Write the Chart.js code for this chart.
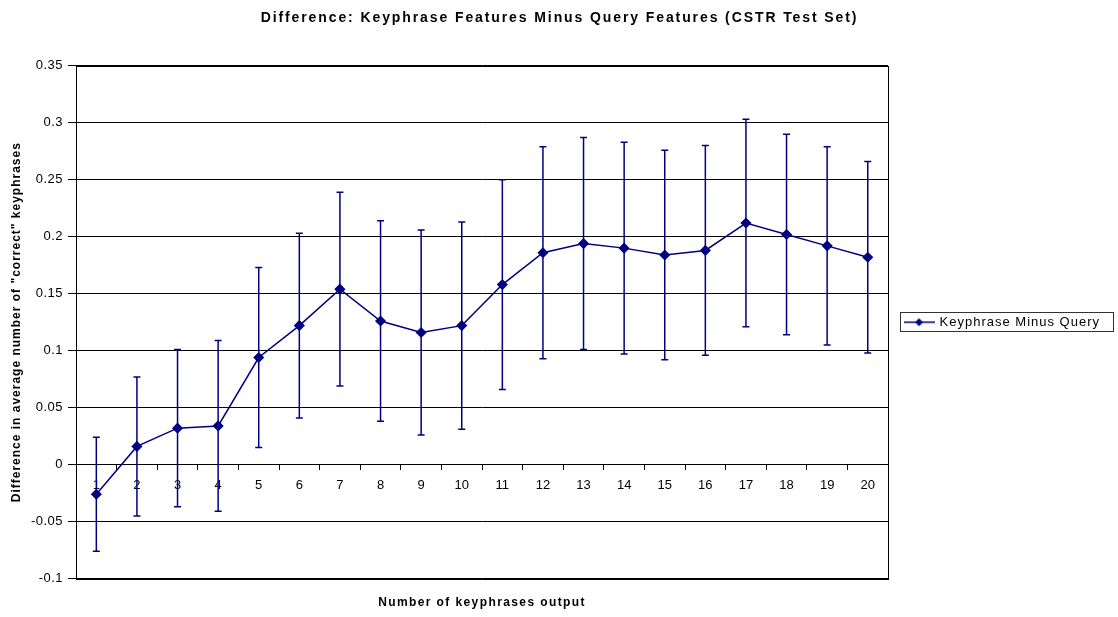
<!DOCTYPE html>
<html>
<head>
<meta charset="utf-8">
<script src="https://cdn.jsdelivr.net/npm/chart.js@4.4.1/dist/chart.umd.min.js"></script>
<style>
  html, body { margin: 0; padding: 0; background: #fff; }
  #wrap { width: 1118px; height: 617px; }
</style>
</head>
<body>
<div id="wrap"><canvas id="chart" width="1118" height="617"></canvas></div>
<script>
// Daten
const categories = ["1", "2", "3", "4", "5", "6", "7", "8", "9", "10",
  "11", "12", "13", "14", "15", "16", "17", "18", "19", "20"];
const meanDiff = [-0.026, 0.016, 0.032, 0.034, 0.094, 0.122, 0.154, 0.126, 0.116, 0.122,
  0.158, 0.186, 0.194, 0.190, 0.184, 0.188, 0.212, 0.202, 0.192, 0.182];
const errorSize = [0.050, 0.061, 0.069, 0.075, 0.079, 0.081, 0.085, 0.088, 0.090, 0.091,
  0.092, 0.093, 0.093, 0.093, 0.092, 0.092, 0.091, 0.088, 0.087, 0.084];
const yTicks = { min: -0.1, max: 0.35, step: 0.05 };

const NAVY = "#000080";
const FONT = "'Liberation Sans', Arial, sans-serif";
const LEGEND_TEXT = "Keyphrase Minus Query";

// Legendensymbol: Linie mit Raute
function makeLegendSymbol() {
  const c = document.createElement("canvas");
  c.width = 31;
  c.height = 10;
  const g = c.getContext("2d");
  g.strokeStyle = NAVY;
  g.lineWidth = 1.5;
  g.beginPath();
  g.moveTo(0, 5);
  g.lineTo(31, 5);
  g.stroke();
  g.fillStyle = NAVY;
  g.beginPath();
  g.moveTo(15.5, 1);
  g.lineTo(19.5, 5);
  g.lineTo(15.5, 9);
  g.lineTo(11.5, 5);
  g.closePath();
  g.fill();
  return c;
}
const legendSymbol = makeLegendSymbol();

// Methode mit Buchstabenabstand umhüllen
function withSpacing(obj, method, ctx, sp) {
  if (!obj || obj["_sp_" + method]) return;
  const orig = obj[method];
  obj[method] = function (...args) {
    const prev = ctx.letterSpacing;
    ctx.letterSpacing = sp;
    const r = orig.apply(this, args);
    ctx.letterSpacing = prev;
    return r;
  };
  obj["_sp_" + method] = true;
}

const spacing = {
  id: "spacing",
  beforeLayout(chart) {
    // Legende schon beim Ausmessen mit Abstand
    withSpacing(chart.legend, "fit", chart.ctx, "1px");
  },
  afterLayout(chart) {
    const ctx = chart.ctx;
    withSpacing(chart.titleBlock, "draw", ctx, "1.9px");
    withSpacing(chart.legend, "draw", ctx, "1px");
    withSpacing(chart.scales.y, "drawTitle", ctx, "1px");
    withSpacing(chart.scales.y, "drawLabels", ctx, "0.5px");
    withSpacing(chart.scales.x2, "drawTitle", ctx, "1.4px");
  }
};

// Fehlerbalken über die Skalen zeichnen
const errorBars = {
  id: "errorBars",
  beforeDatasetsDraw(chart) {
    const { ctx, scales } = chart;
    const xs = scales.x, ys = scales.y;
    ctx.save();
    ctx.strokeStyle = NAVY;
    ctx.lineWidth = 1.5;
    meanDiff.forEach((v, i) => {
      const x = xs.getPixelForValue(i);
      const yTop = ys.getPixelForValue(v + errorSize[i]);
      const yBot = ys.getPixelForValue(v - errorSize[i]);
      ctx.beginPath();
      ctx.moveTo(x, yTop);
      ctx.lineTo(x, yBot);
      ctx.moveTo(x - 3.5, yTop);
      ctx.lineTo(x + 3.5, yTop);
      ctx.moveTo(x - 3.5, yBot);
      ctx.lineTo(x + 3.5, yBot);
      ctx.stroke();
    });
    ctx.restore();
  }
};

// Rahmen um Plotfläche und Legende
const frames = {
  id: "frames",
  afterDraw(chart) {
    const { ctx, chartArea } = chart;
    ctx.save();
    ctx.strokeStyle = "#000";
    ctx.lineWidth = 1;
    ctx.strokeRect(Math.round(chartArea.left) + 0.5, Math.round(chartArea.top) + 0.5,
      Math.round(chartArea.width), Math.round(chartArea.height));
    const hb = chart.legend && chart.legend.legendHitBoxes && chart.legend.legendHitBoxes[0];
    if (hb) {
      ctx.font = "13px " + FONT;
      ctx.letterSpacing = "1px";
      const textW = ctx.measureText(LEGEND_TEXT).width;
      ctx.letterSpacing = "0px";
      const textStart = hb.left + 28 + 6.5;
      const boxLeft = Math.round(hb.left) - 4.5;
      const boxRight = Math.round(textStart + textW) + 13.5;
      ctx.strokeStyle = "#333";
      ctx.strokeRect(boxLeft, Math.round(hb.top) - 3.5, boxRight - boxLeft, Math.round(hb.height) + 6);
    }
    ctx.restore();
  }
};

// eslint-disable-next-line no-undef
new Chart(document.getElementById("chart"), {
  type: "line",
  data: {
    labels: categories,
    datasets: [{
      label: LEGEND_TEXT,
      data: meanDiff,
      borderColor: NAVY,
      backgroundColor: NAVY,
      borderWidth: 1.5,
      pointStyle: "rectRot",
      pointRadius: 4.5,
      pointBackgroundColor: NAVY,
      pointBorderColor: NAVY,
      tension: 0,
      fill: false
    }]
  },
  options: {
    responsive: false,
    animation: false,
    layout: { padding: { left: 9, right: 8, top: 4, bottom: 7 } },
    plugins: {
      title: {
        display: true,
        text: "Difference: Keyphrase Features Minus Query Features (CSTR Test Set)",
        color: "#000",
        font: { family: FONT, size: 14, weight: "bold" },
        padding: { top: 6, bottom: 39 }
      },
      legend: {
        position: "right",
        fullSize: false,
        labels: {
          color: "#000",
          font: { family: FONT, size: 13 },
          usePointStyle: true,
          pointStyleWidth: 28,
          padding: 17,
          generateLabels: () => [{
            text: LEGEND_TEXT,
            pointStyle: legendSymbol,
            fillStyle: NAVY,
            strokeStyle: NAVY,
            lineWidth: 0,
            datasetIndex: 0
          }]
        }
      },
      tooltip: { enabled: false }
    },
    scales: {
      x: {
        type: "category",
        position: { y: 0 },
        offset: true,
        grid: {
          offset: true,
          drawOnChartArea: false,
          drawTicks: true,
          tickLength: 5,
          color: "#000"
        },
        border: { display: true, color: "#000", width: 1 },
        ticks: {
          color: "#000",
          font: { family: FONT, size: 13 },
          padding: 8,
          maxRotation: 0,
          autoSkip: false
        }
      },
      x2: {
        type: "category",
        position: "bottom",
        labels: categories,
        grid: { display: false, drawTicks: false },
        border: { display: false },
        ticks: { display: false },
        title: {
          display: true,
          text: "Number of keyphrases output",
          color: "#000",
          font: { family: FONT, size: 12, weight: "bold" },
          padding: { top: 17, bottom: 0 }
        }
      },
      y: {
        min: yTicks.min,
        max: yTicks.max,
        grid: {
          color: "#000",
          lineWidth: 1,
          drawTicks: true,
          tickLength: 8
        },
        border: { display: true, color: "#000", width: 1 },
        ticks: {
          stepSize: yTicks.step,
          color: "#000",
          font: { family: FONT, size: 13 },
          padding: 5,
          callback: v => String(Math.round(v * 100) / 100)
        },
        title: {
          display: true,
          text: "Difference in average number of \"correct\" keyphrases",
          color: "#000",
          font: { family: FONT, size: 12, weight: "bold" },
          padding: { top: 0, bottom: 5 }
        }
      }
    }
  },
  plugins: [spacing, errorBars, frames]
});
</script>
</body>
</html>
